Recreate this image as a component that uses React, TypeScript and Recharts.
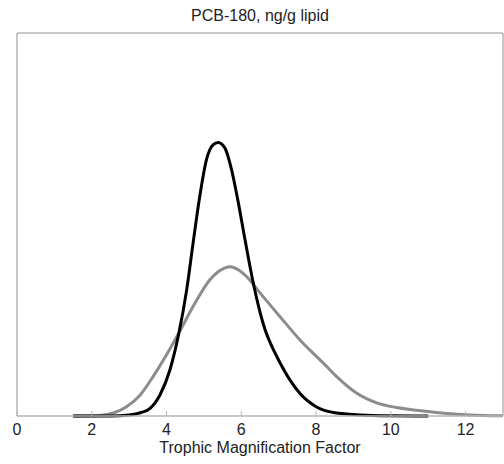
import React from "react";
import { LineChart, Line, XAxis, YAxis, Label } from "recharts";

// Trophic magnification factor (x) and density (y)
const blackX = [1.5, 2.5, 3.0, 3.3, 3.56, 3.82, 4.09, 4.31, 4.54, 4.71, 4.89, 5.07, 5.25, 5.38, 5.56, 5.74, 5.92, 6.1, 6.32, 6.5, 6.65, 6.8, 7.0, 7.3, 7.57, 8.0, 8.5, 9.2, 10.0, 11.0];
const blackY = [0, 0, 0.02, 0.06, 0.14, 0.38, 0.84, 1.45, 2.31, 3.16, 4.02, 4.69, 4.96, 5.0, 4.9, 4.5, 3.9, 3.22, 2.43, 1.9, 1.55, 1.3, 1.02, 0.66, 0.41, 0.17, 0.06, 0.02, 0.005, 0];

const grayX = [1.5, 2.2, 2.6, 2.93, 3.29, 3.64, 4.0, 4.3, 4.71, 5.16, 5.45, 5.7, 5.95, 6.14, 6.5, 7.03, 7.57, 8.19, 8.55, 9.08, 9.62, 10.2, 10.86, 11.49, 12.1, 13.0];
const grayY = [0, 0.01, 0.06, 0.17, 0.38, 0.72, 1.12, 1.48, 2.0, 2.49, 2.67, 2.73, 2.66, 2.55, 2.25, 1.82, 1.39, 0.97, 0.72, 0.42, 0.24, 0.15, 0.09, 0.045, 0.02, 0.005];

const xTicks = [0, 2, 4, 6, 8, 10, 12];
const yTicks = [0, 1, 2, 3, 4, 5, 6, 7];

const blackData = blackX.map((x, i) => ({ x, y: blackY[i] }));
const grayData = grayX.map((x, i) => ({ x, y: grayY[i] }));

const font = "'Liberation Sans', Arial, Helvetica, sans-serif";
const frame = "#b4b4b4";
const textColor = "#222";

const App: React.FC = () => {
  return (
    <div style={{ position: "absolute", left: 0, top: 0, fontFamily: font }}>
      <LineChart width={504} height={464} margin={{ top: 0, right: 0, bottom: 0, left: 0 }}>
        <XAxis
          xAxisId="b"
          orientation="bottom"
          type="number"
          dataKey="x"
          domain={[0, 13]}
          ticks={xTicks}
          height={48}
          tickSize={-5}
          tickMargin={13}
          stroke={frame}
          tick={{ fill: textColor, fontSize: 16, fontFamily: font }}
          tickLine={{ stroke: frame }}
          axisLine={{ stroke: frame, strokeWidth: 1.5 }}
        >
          <Label
            value="Trophic Magnification Factor"
            position="insideBottom"
            offset={11.5}
            style={{ fill: textColor, fontSize: 16, fontFamily: font }}
          />
        </XAxis>
        <XAxis
          xAxisId="t"
          orientation="top"
          type="number"
          dataKey="x"
          domain={[0, 13]}
          ticks={xTicks}
          height={33}
          tickSize={-5}
          tick={false}
          tickLine={{ stroke: frame }}
          axisLine={{ stroke: frame, strokeWidth: 1.5 }}
        >
          <Label
            value="PCB-180, ng/g lipid"
            position="insideTop"
            offset={10}
            style={{ fill: textColor, fontSize: 16, fontFamily: font }}
          />
        </XAxis>
        <YAxis
          yAxisId="l"
          orientation="left"
          type="number"
          domain={[0, 7]}
          ticks={yTicks}
          width={17}
          tickSize={-5}
          tick={false}
          tickLine={{ stroke: frame }}
          axisLine={{ stroke: frame, strokeWidth: 1.5 }}
        />
        <YAxis
          yAxisId="r"
          orientation="right"
          type="number"
          domain={[0, 7]}
          ticks={yTicks}
          width={1}
          tickSize={-5}
          tick={false}
          tickLine={{ stroke: frame }}
          axisLine={{ stroke: frame, strokeWidth: 1.5 }}
        />
        <Line
          xAxisId="t"
          yAxisId="r"
          data={grayData}
          dataKey="y"
          type="monotone"
          stroke="#8c8c8c"
          strokeWidth={3}
          dot={false}
          isAnimationActive={false}
        />
        <Line
          xAxisId="b"
          yAxisId="l"
          data={blackData}
          dataKey="y"
          type="monotone"
          stroke="#000"
          strokeWidth={3}
          dot={false}
          isAnimationActive={false}
        />
      </LineChart>
    </div>
  );
};

export default App;
